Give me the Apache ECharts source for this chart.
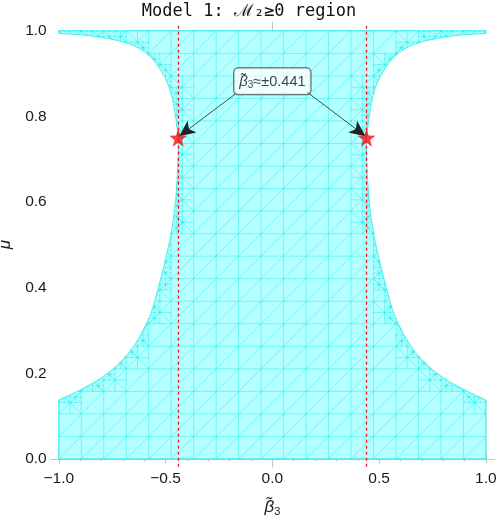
<!DOCTYPE html>
<html>
<head>
<meta charset="utf-8">
<script src="https://cdn.jsdelivr.net/npm/echarts@6/dist/echarts.min.js"></script>
<style>
html, body { margin: 0; padding: 0; background: #fff; }
#chart { width: 498px; height: 518px; }
</style>
</head>
<body>
<div id="chart"></div>
<script>
// region boundary: mu and half width |beta3| of the allowed band
const boundaryMu = [0, 0.138, 0.160, 0.190, 0.220, 0.250, 0.280, 0.317, 0.350, 0.395, 0.442, 0.520, 0.600, 0.675, 0.749, 0.780, 0.811, 0.843, 0.874, 0.905, 0.936, 0.960, 0.975, 0.989, 0.992, 0.994, 1.0]
const boundaryHalf = [1.0, 1.0, 0.905, 0.800, 0.725, 0.670, 0.628, 0.589, 0.562, 0.537, 0.512, 0.477, 0.454, 0.444, 0.441, 0.448, 0.457, 0.469, 0.488, 0.519, 0.565, 0.628, 0.706, 0.862, 0.940, 1.0, 1.0]

// mesh of the region plot: number of cells in beta3 and mu
const meshCellsX = 19
const meshCellsY = 19

// marked points
const criticalBeta = [-0.441, 0.441]
const criticalMu = [0.75, 0.75]
const labelPoint = [0, 0.882]
const arrowStartX = [-0.172, 0.165]
const arrowStartY = [0.853, 0.856]
const arrowEndX = [-0.436, 0.436]
const arrowEndY = [0.754, 0.754]

// ticks
const xTicks = [-1, -0.5, 0, 0.5, 1]
const xMinorTicks = [-0.9, -0.8, -0.7, -0.6, -0.4, -0.3, -0.2, -0.1, 0.1, 0.2, 0.3, 0.4, 0.6, 0.7, 0.8, 0.9]
const yTicks = [0, 0.2, 0.4, 0.6, 0.8, 1]
const yMinorTicks = [0.05, 0.1, 0.15, 0.25, 0.3, 0.35, 0.45, 0.5, 0.55, 0.65, 0.7, 0.75, 0.85, 0.9, 0.95]

// smooth the curved part of the boundary (between the flat corner pieces) with a centripetal Catmull-Rom
function smoothBoundary () {
  let first = 1
  let last = boundaryMu.length - 2
  let pts = []
  for (let i = 0; i < boundaryMu.length; i++) pts.push([boundaryHalf[i] * 214, boundaryMu[i] * 428])
  let outH = [boundaryHalf[0]]
  let outM = [boundaryMu[0]]
  for (let i = first; i < last; i++) {
    let p0 = pts[Math.max(i - 1, first)]
    let p1 = pts[i]
    let p2 = pts[i + 1]
    let p3 = pts[Math.min(i + 2, last)]
    let d = (a, b) => Math.pow(Math.hypot(b[0] - a[0], b[1] - a[1]) || 1e-6, 0.5)
    let t1 = d(p0, p1)
    let t2 = t1 + d(p1, p2)
    let t3 = t2 + d(p2, p3)
    let steps = 10
    for (let s = 0; s < steps; s++) {
      let t = t1 + (t2 - t1) * s / steps
      let lerp = (a, b, ta, tb) => {
        if (tb - ta < 1e-9) return a
        return [a[0] * (tb - t) / (tb - ta) + b[0] * (t - ta) / (tb - ta), a[1] * (tb - t) / (tb - ta) + b[1] * (t - ta) / (tb - ta)]
      }
      let a1 = lerp(p0, p1, 0, t1)
      let a2 = lerp(p1, p2, t1, t2)
      let a3 = lerp(p2, p3, t2, t3)
      let b1 = lerp(a1, a2, 0, t2)
      let b2 = lerp(a2, a3, t1, t3)
      let c = lerp(b1, b2, t1, t2)
      outH.push(c[0] / 214)
      outM.push(c[1] / 428)
    }
  }
  outH.push(boundaryHalf[last], boundaryHalf[last + 1])
  outM.push(boundaryMu[last], boundaryMu[last + 1])
  return [outM, outH]
}
const [curveMu, curveHalf] = smoothBoundary()

function halfWidth (mu) {
  for (let i = 1; i < curveMu.length; i++) {
    if (mu <= curveMu[i]) {
      let span = curveMu[i] - curveMu[i - 1]
      if (span <= 0) continue
      let t = (mu - curveMu[i - 1]) / span
      return curveHalf[i - 1] + t * (curveHalf[i] - curveHalf[i - 1])
    }
  }
  return curveHalf[curveHalf.length - 1]
}

function inside (x, mu) {
  return mu >= -1e-9 && mu <= 1 + 1e-9 && Math.abs(x) <= halfWidth(mu) + 1e-9
}

// keep the parts of a straight mesh line that fall inside the region
function clipSegment (x1, y1, x2, y2, out) {
  let px = t => x1 + t * (x2 - x1)
  let py = t => y1 + t * (y2 - y1)
  let edge = (tIn, tOut) => {
    for (let i = 0; i < 22; i++) {
      let m = (tIn + tOut) / 2
      if (inside(px(m), py(m))) tIn = m
      else tOut = m
    }
    return tIn
  }
  let n = 160
  let prevIn = false
  let prevT = 0
  let start = 0
  for (let k = 0; k <= n; k++) {
    let t = k / n
    let isIn = inside(px(t), py(t))
    if (isIn && !prevIn) start = k === 0 ? 0 : edge(t, prevT)
    if (!isIn && prevIn) {
      let end = edge(prevT, t)
      if (end - start > 1e-4) out.push([px(start), py(start), px(end), py(end)])
    }
    prevIn = isIn
    prevT = t
  }
  if (prevIn && 1 - start > 1e-4) out.push([px(start), py(start), px(1), py(1)])
}

function cellIsCut (x0, y0, w, h) {
  let seenIn = false
  let seenOut = false
  for (let i = 0; i <= 6; i++) {
    for (let j = 0; j <= 6; j++) {
      if (inside(x0 + w * i / 6, y0 + h * j / 6)) seenIn = true
      else seenOut = true
    }
  }
  return seenIn && seenOut
}

function refineCell (x0, y0, w, h, depth, out) {
  clipSegment(x0 + w / 2, y0, x0 + w / 2, y0 + h, out)
  clipSegment(x0, y0 + h / 2, x0 + w, y0 + h / 2, out)
  clipSegment(x0, y0 + h, x0 + w, y0, out)
  if (depth > 1) {
    for (let a = 0; a < 2; a++) {
      for (let b = 0; b < 2; b++) {
        let sx = x0 + a * w / 2
        let sy = y0 + b * h / 2
        if (cellIsCut(sx, sy, w / 2, h / 2)) {
          clipSegment(sx, sy, sx + w / 2, sy + h / 2, out)
          refineCell(sx, sy, w / 2, h / 2, depth - 1, out)
        }
      }
    }
  }
}

let dx = 2 / meshCellsX
let dy = 1 / meshCellsY
let meshSegments = []
for (let k = 0; k <= meshCellsX; k++) clipSegment(-1 + k * dx, 0, -1 + k * dx, 1, meshSegments)
for (let k = 0; k <= meshCellsY; k++) clipSegment(-1, k * dy, 1, k * dy, meshSegments)
for (let j = -meshCellsY; j <= meshCellsX; j++) clipSegment(-1 + j * dx, 0, -1 + (j + meshCellsY) * dx, 1, meshSegments)
for (let i = 0; i < meshCellsX; i++) {
  for (let k = 0; k < meshCellsY; k++) {
    let x0 = -1 + i * dx
    let y0 = k * dy
    if (cellIsCut(x0, y0, dx, dy)) refineCell(x0, y0, dx, dy, 2, meshSegments)
  }
}

// outline: right side upwards, left side downwards
let regionX = []
let regionY = []
for (let i = 0; i < curveMu.length; i++) {
  regionX.push(curveHalf[i])
  regionY.push(curveMu[i])
}
for (let i = curveMu.length - 1; i >= 0; i--) {
  regionX.push(-curveHalf[i])
  regionY.push(curveMu[i])
}

const starPath = 'path://M0,-10 L2.35,-3.24 L9.51,-3.09 L3.8,1.24 L5.88,8.09 L0,4 L-5.88,8.09 L-3.8,1.24 L-9.51,-3.09 L-2.35,-3.24 Z'
const labelFont = '"Liberation Sans", Arial, sans-serif'
const frameColor = '#c4c4c4'
const tickColor = '#c4c4c4'

function fmt (v) {
  return (v < 0 ? '\u2212' : '') + Math.abs(v).toFixed(1)
}

function xAxisDef (position, values, len, labels) {
  return {
    type: 'value',
    position: position,
    min: -1.038,
    max: 1.038,
    axisLine: { show: true, lineStyle: { color: frameColor, width: 1 } },
    axisTick: { show: true, inside: true, length: len, customValues: values, lineStyle: { color: tickColor } },
    axisLabel: labels
      ? { show: true, customValues: values, formatter: fmt, color: '#1a1a1a', fontSize: 15.5, fontFamily: labelFont, margin: 4 }
      : { show: false },
    splitLine: { show: false }
  }
}

function yAxisDef (position, values, len, labels) {
  return {
    type: 'value',
    position: position,
    min: -0.018,
    max: 1.019,
    axisLine: { show: true, lineStyle: { color: frameColor, width: 1 } },
    axisTick: { show: true, inside: true, length: len, customValues: values, lineStyle: { color: tickColor } },
    axisLabel: labels
      ? { show: true, customValues: values, formatter: fmt, color: '#1a1a1a', fontSize: 15.5, fontFamily: labelFont, margin: 4 }
      : { show: false },
    splitLine: { show: false }
  }
}

let xAxes = [
  xAxisDef('bottom', xTicks, 4.5, true),
  xAxisDef('bottom', xMinorTicks, 2.5, false),
  xAxisDef('top', xTicks, 4.5, false),
  xAxisDef('top', xMinorTicks, 2.5, false)
]
xAxes[0].name = '{i|\u03B2\u0303}{s|3}'
xAxes[0].nameLocation = 'middle'
xAxes[0].nameGap = 31
xAxes[0].nameTextStyle = {
  rich: {
    i: { fontSize: 17, fontStyle: 'italic', fontFamily: labelFont, color: '#222' },
    s: { fontSize: 11, fontFamily: labelFont, color: '#222', padding: [9, 0, 0, 0] }
  }
}
let yAxes = [
  yAxisDef('left', yTicks, 4.5, true),
  yAxisDef('left', yMinorTicks, 2.5, false),
  yAxisDef('right', yTicks, 4.5, false),
  yAxisDef('right', yMinorTicks, 2.5, false)
]
yAxes[0].name = '\u03BC'
yAxes[0].nameLocation = 'middle'
yAxes[0].nameGap = 32
yAxes[0].nameTextStyle = { fontSize: 17, fontStyle: 'italic', fontFamily: labelFont, color: '#222' }

let chart = echarts.init(document.getElementById('chart'), null, { renderer: 'canvas' })
let option = {
  animation: false,
  backgroundColor: '#fff',
  title: {
    text: 'Model 1: \u2133\u2082\u22650 region',
    left: 'center',
    top: -2,
    textStyle: { fontFamily: '"DejaVu Sans Mono", monospace', fontSize: 17, fontWeight: 'normal', color: '#111' }
  },
  grid: { left: 50.7, right: 4, top: 22.7, bottom: 51.3, containLabel: false, outerBoundsMode: 'none' },
  xAxis: xAxes,
  yAxis: yAxes,
  series: [
    {
      type: 'custom',
      name: 'region',
      silent: true,
      z: 1,
      data: [0],
      renderItem: function (params, api) {
        let pts = regionX.map((x, i) => api.coord([x, regionY[i]]))
        return {
          type: 'polygon',
          shape: { points: pts },
          style: { fill: '#b4ffff', stroke: '#48f0f0', lineWidth: 1 }
        }
      }
    },
    {
      type: 'custom',
      name: 'mesh',
      silent: true,
      z: 2,
      data: meshSegments,
      renderItem: function (params, api) {
        let p1 = api.coord([api.value(0), api.value(1)])
        let p2 = api.coord([api.value(2), api.value(3)])
        return {
          type: 'line',
          shape: { x1: p1[0], y1: p1[1], x2: p2[0], y2: p2[1] },
          style: { stroke: 'rgba(0, 228, 228, 0.42)', lineWidth: 0.9 }
        }
      }
    },
    {
      type: 'line',
      name: 'critical',
      z: 3,
      data: [],
      markLine: {
        silent: true,
        symbol: 'none',
        label: { show: false },
        lineStyle: { color: '#e8191e', type: [3, 3], width: 1.3 },
        data: criticalBeta.map(b => ({ xAxis: b }))
      }
    },
    {
      type: 'scatter',
      name: 'label',
      z: 4,
      symbolSize: 0,
      data: [labelPoint],
      label: {
        show: true,
        position: 'inside',
        formatter: '{i|\u03B2\u0303}{s|3}{n|\u2248\u00B10.441}',
        backgroundColor: '#fff',
        borderColor: '#333',
        borderWidth: 1,
        borderRadius: 4,
        padding: [5, 5, 4, 5],
        rich: {
          i: { fontSize: 15, fontStyle: 'italic', fontFamily: labelFont, color: '#111' },
          s: { fontSize: 10, fontFamily: labelFont, color: '#111', padding: [7, 0, 0, 0] },
          n: { fontSize: 14.5, fontFamily: labelFont, color: '#111' }
        }
      },
      markLine: {
        silent: true,
        symbol: ['none', 'arrow'],
        symbolSize: [11, 16],
        label: { show: false },
        lineStyle: { color: '#222', width: 0.8, type: 'solid' },
        data: arrowStartX.map((x, i) => [
          { coord: [x, arrowStartY[i]] },
          { coord: [arrowEndX[i], arrowEndY[i]] }
        ])
      }
    },
    {
      type: 'scatter',
      name: 'critical points',
      z: 5,
      symbol: starPath,
      symbolSize: 18,
      itemStyle: { color: '#f41010' },
      data: criticalBeta.map((b, i) => [b, criticalMu[i]])
    }
  ]
}
chart.setOption(option)
</script>
</body>
</html>
